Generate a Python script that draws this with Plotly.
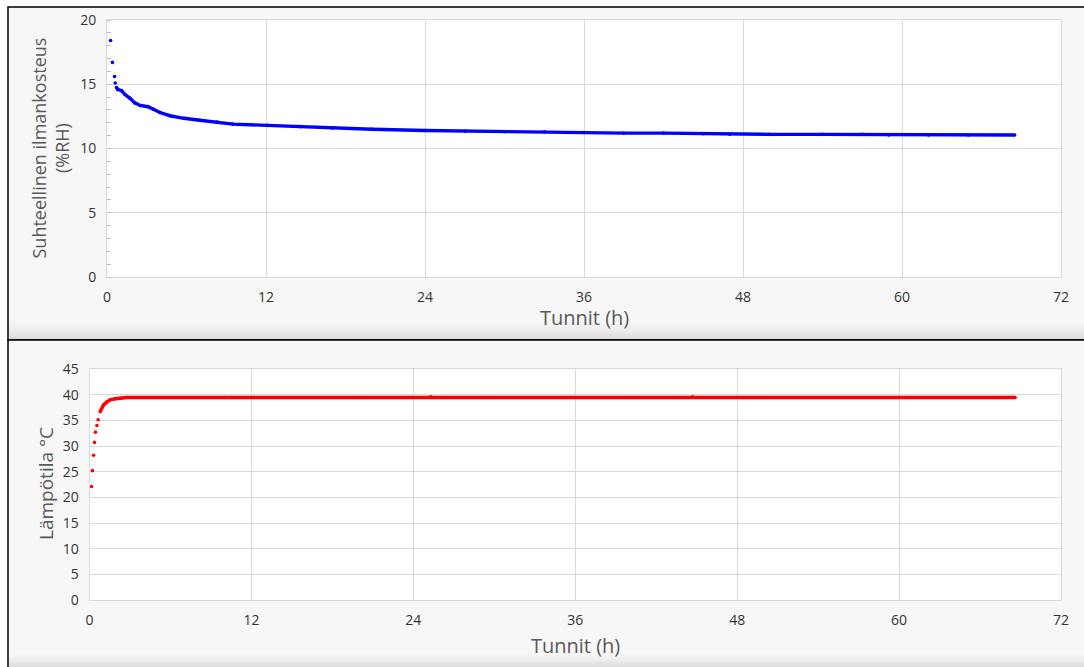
import plotly.graph_objects as go

# ---------------- data ----------------
rh_hours = [0.27, 0.41, 0.57, 0.62, 0.72, 0.8, 1.1, 1.36, 1.74, 2.1, 2.5, 3.1, 3.5, 4.0,
            4.75, 5.8, 7.0, 8.3, 9.5, 12.1, 14.6, 17.0, 20.0, 24.0, 27.0, 30.0, 33.0,
            36.0, 39.0, 42.0, 45.0, 47.0, 50.0, 54.0, 57.0, 59.0, 62.0, 65.0, 68.5]
rh_values = [18.4, 16.7, 15.6, 15.1, 14.75, 14.6, 14.5, 14.2, 13.9, 13.55, 13.35, 13.25,
             13.05, 12.8, 12.55, 12.35, 12.2, 12.05, 11.9, 11.8, 11.7, 11.6, 11.5, 11.4,
             11.35, 11.3, 11.3, 11.25, 11.2, 11.2, 11.15, 11.1, 11.1, 11.1, 11.1, 11.05,
             11.05, 11.05, 11.05]

temp_hours = [0.15, 0.22, 0.30, 0.37, 0.44, 0.55, 0.64, 0.79, 1.04, 1.3, 1.53, 1.9, 2.27,
              2.77, 10.0, 20.0, 25.3, 30.0, 40.0, 44.7, 50.0, 60.0, 68.6]
temp_values = [22.1, 25.2, 28.2, 30.7, 32.7, 34.0, 35.1, 36.7, 38.0, 38.6, 39.0, 39.2, 39.3,
               39.45, 39.45, 39.45, 39.6, 39.45, 39.45, 39.6, 39.45, 39.45, 39.45]

x_ticks = [0, 12, 24, 36, 48, 60, 72]
x_title = "Tunnit (h)"
rh_title = "Suhteellinen ilmankosteus<br>(%RH)"
temp_title = "Lämpötila °C"

# index where the measured points become a continuous band
RH_SPLIT = 4
TEMP_SPLIT = 7

# ---------------- geometry helpers ----------------
W, H = 1084, 667
def px(x):
    return x / W
def py(y):
    return 1 - y / H

FONT = "Open Sans"
TICK_COL = "#333333"
TITLE_COL = "#595959"
GRID = "#d9d9d9"

TOP = dict(l=107, r=1061, t=20, b=277)
BOT = dict(l=89.5, r=1061, t=369, b=600)

fig = go.Figure()

# top chart
fig.add_trace(go.Scatter(x=rh_hours, y=rh_values, mode="markers",
                         marker=dict(color="#0000ff", size=3.6), xaxis="x", yaxis="y",
                         showlegend=False, hoverinfo="x+y"))
fig.add_trace(go.Scatter(x=rh_hours[RH_SPLIT:], y=rh_values[RH_SPLIT:], mode="lines",
                         line=dict(color="#0000ff", width=3.4), xaxis="x", yaxis="y",
                         showlegend=False, hoverinfo="skip"))
# bottom chart
fig.add_trace(go.Scatter(x=temp_hours, y=temp_values, mode="markers",
                         marker=dict(color="#ff0000", size=3.6), xaxis="x2", yaxis="y2",
                         showlegend=False, hoverinfo="x+y"))
fig.add_trace(go.Scatter(x=temp_hours[TEMP_SPLIT:], y=temp_values[TEMP_SPLIT:], mode="lines",
                         line=dict(color="#ff0000", width=3.4), xaxis="x2", yaxis="y2",
                         showlegend=False, hoverinfo="skip"))

common_x = dict(range=[0, 72], tickvals=x_ticks, showgrid=True, gridcolor=GRID, gridwidth=1,
                showline=True, linecolor=GRID, linewidth=1, mirror=True, zeroline=False,
                ticks="outside", ticklen=7, tickcolor="rgba(0,0,0,0)", automargin=False,
                tickfont=dict(family=FONT, size=14, color=TICK_COL), fixedrange=True)
common_y = dict(showgrid=True, gridcolor=GRID, gridwidth=1, showline=True, linecolor=GRID,
                linewidth=1, mirror=True, zeroline=False, dtick=5, automargin=False,
                ticks="outside", ticklen=7, tickcolor="rgba(0,0,0,0)",
                tickfont=dict(family=FONT, size=14, color=TICK_COL), fixedrange=True)

shapes = []
# panel backgrounds with borders
shapes.append(dict(type="rect", xref="paper", yref="paper", x0=px(8), x1=px(1090),
                   y0=py(340), y1=py(7), fillcolor="#f7f7f7",
                   line=dict(color="#000000", width=1.5), layer="below"))
shapes.append(dict(type="rect", xref="paper", yref="paper", x0=px(8), x1=px(1090),
                   y0=py(675), y1=py(340), fillcolor="#f7f7f7",
                   line=dict(color="#000000", width=1.5), layer="below"))
# bottom shading of the panels
for base, n in ((339, 22), (667, 16)):
    for i in range(n):
        y0 = base - (i + 1)
        shapes.append(dict(type="rect", xref="paper", yref="paper", x0=px(9), x1=px(1090),
                           y0=py(y0 + 1), y1=py(y0), fillcolor="#000000",
                           opacity=0.11 * (1 - i / n) ** 2, line=dict(width=0), layer="below"))
# white plot areas
for a in (TOP, BOT):
    shapes.append(dict(type="rect", xref="paper", yref="paper", x0=px(a["l"]), x1=px(a["r"]),
                       y0=py(a["b"]), y1=py(a["t"]), fillcolor="#ffffff",
                       line=dict(width=0), layer="below"))

annotations = [
    dict(text=x_title, xref="paper", yref="paper", x=px(584), y=py(318), showarrow=False,
         font=dict(family=FONT, size=20, color=TITLE_COL), xanchor="center", yanchor="middle"),
    dict(text=x_title, xref="paper", yref="paper", x=px(575), y=py(645), showarrow=False,
         font=dict(family=FONT, size=20, color=TITLE_COL), xanchor="center", yanchor="middle"),
    dict(text=rh_title, xref="paper", yref="paper", x=px(49.5), y=py(148), showarrow=False,
         textangle=-90, font=dict(family=FONT, size=18, color=TITLE_COL),
         xanchor="center", yanchor="middle"),
    dict(text=temp_title, xref="paper", yref="paper", x=px(46), y=py(484), showarrow=False,
         textangle=-90, font=dict(family=FONT, size=19, color=TITLE_COL),
         xanchor="center", yanchor="middle"),
]

fig.update_layout(
    width=W, height=H, margin=dict(l=0, r=0, t=0, b=0, autoexpand=False),
    paper_bgcolor="#ffffff", plot_bgcolor="#ffffff",
    xaxis=dict(domain=[px(TOP["l"]), px(TOP["r"])], anchor="y", **common_x),
    yaxis=dict(domain=[py(TOP["b"]), py(TOP["t"])], anchor="x", range=[0, 20],
               minor=dict(ticks="inside", ticklen=4, dtick=1, tickcolor="#bfbfbf",
                          showgrid=False), **common_y),
    xaxis2=dict(domain=[px(BOT["l"]), px(BOT["r"])], anchor="y2", **common_x),
    yaxis2=dict(domain=[py(BOT["b"]), py(BOT["t"])], anchor="x2", range=[0, 45], **common_y),
    shapes=shapes, annotations=annotations, showlegend=False,
)

fig.write_html("out.html")
